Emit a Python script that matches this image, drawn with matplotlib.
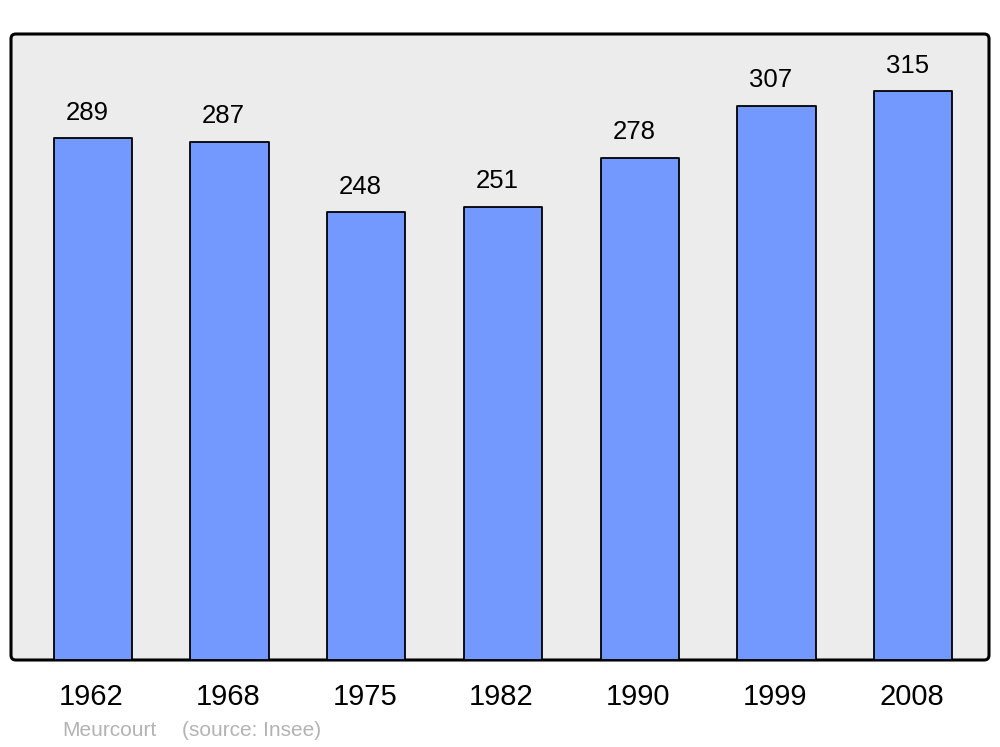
import matplotlib
matplotlib.use("Agg")
import matplotlib.pyplot as plt
from matplotlib.patches import FancyBboxPatch

plt.rcParams['font.family'] = ['Liberation Sans', 'DejaVu Sans']

# Population data (source: Insee)
years = ['1962', '1968', '1975', '1982', '1990', '1999', '2008']
population = [289, 287, 248, 251, 278, 307, 315]
town = 'Meurcourt'
source = '(source: Insee)'

fig = plt.figure(figsize=(10, 7.47), dpi=100)
ax = fig.add_axes([0.011, 87 / 747, 0.978, 626 / 747])

ax.set_facecolor('none')
for s in ax.spines.values():
    s.set_visible(False)

# Grey panel with rounded border
panel = FancyBboxPatch((0, 0), 1, 1, boxstyle='round,pad=0,rounding_size=0.005',
                       mutation_aspect=978 / 626, transform=ax.transAxes,
                       facecolor='#ececec', edgecolor='black', linewidth=2.2,
                       clip_on=False, zorder=0)
ax.add_patch(panel)

x = list(range(len(years)))
bars = ax.bar(x, population, width=0.572, color='#7399ff', edgecolor='black',
              linewidth=1.3, zorder=2)
for b in bars:
    b.set_joinstyle('round')

ax.set_xlim(-0.598, 6.553)
ax.set_ylim(0, 346.8)
ax.set_xticks([])
ax.set_yticks([])

for xi, v in zip(x, population):
    ax.annotate(str(v), (xi, v), xytext=(-4.3, 18.6), textcoords='offset points',
                ha='center', va='center', fontsize=18.5, color='black')

for xi, yr in zip(x, years):
    ax.annotate(yr, (xi, 0), xytext=(-1.2, -26.4), textcoords='offset points',
                ha='center', va='center', fontsize=21, color='black',
                annotation_clip=False)

fig.text(0.062, 1 - 731 / 747, town, fontsize=15, color='#b3b3b3',
         ha='left', va='center')
fig.text(0.182, 1 - 731 / 747, source, fontsize=15, color='#b3b3b3',
         ha='left', va='center')

fig.savefig('out.png', dpi=100, facecolor='white')
